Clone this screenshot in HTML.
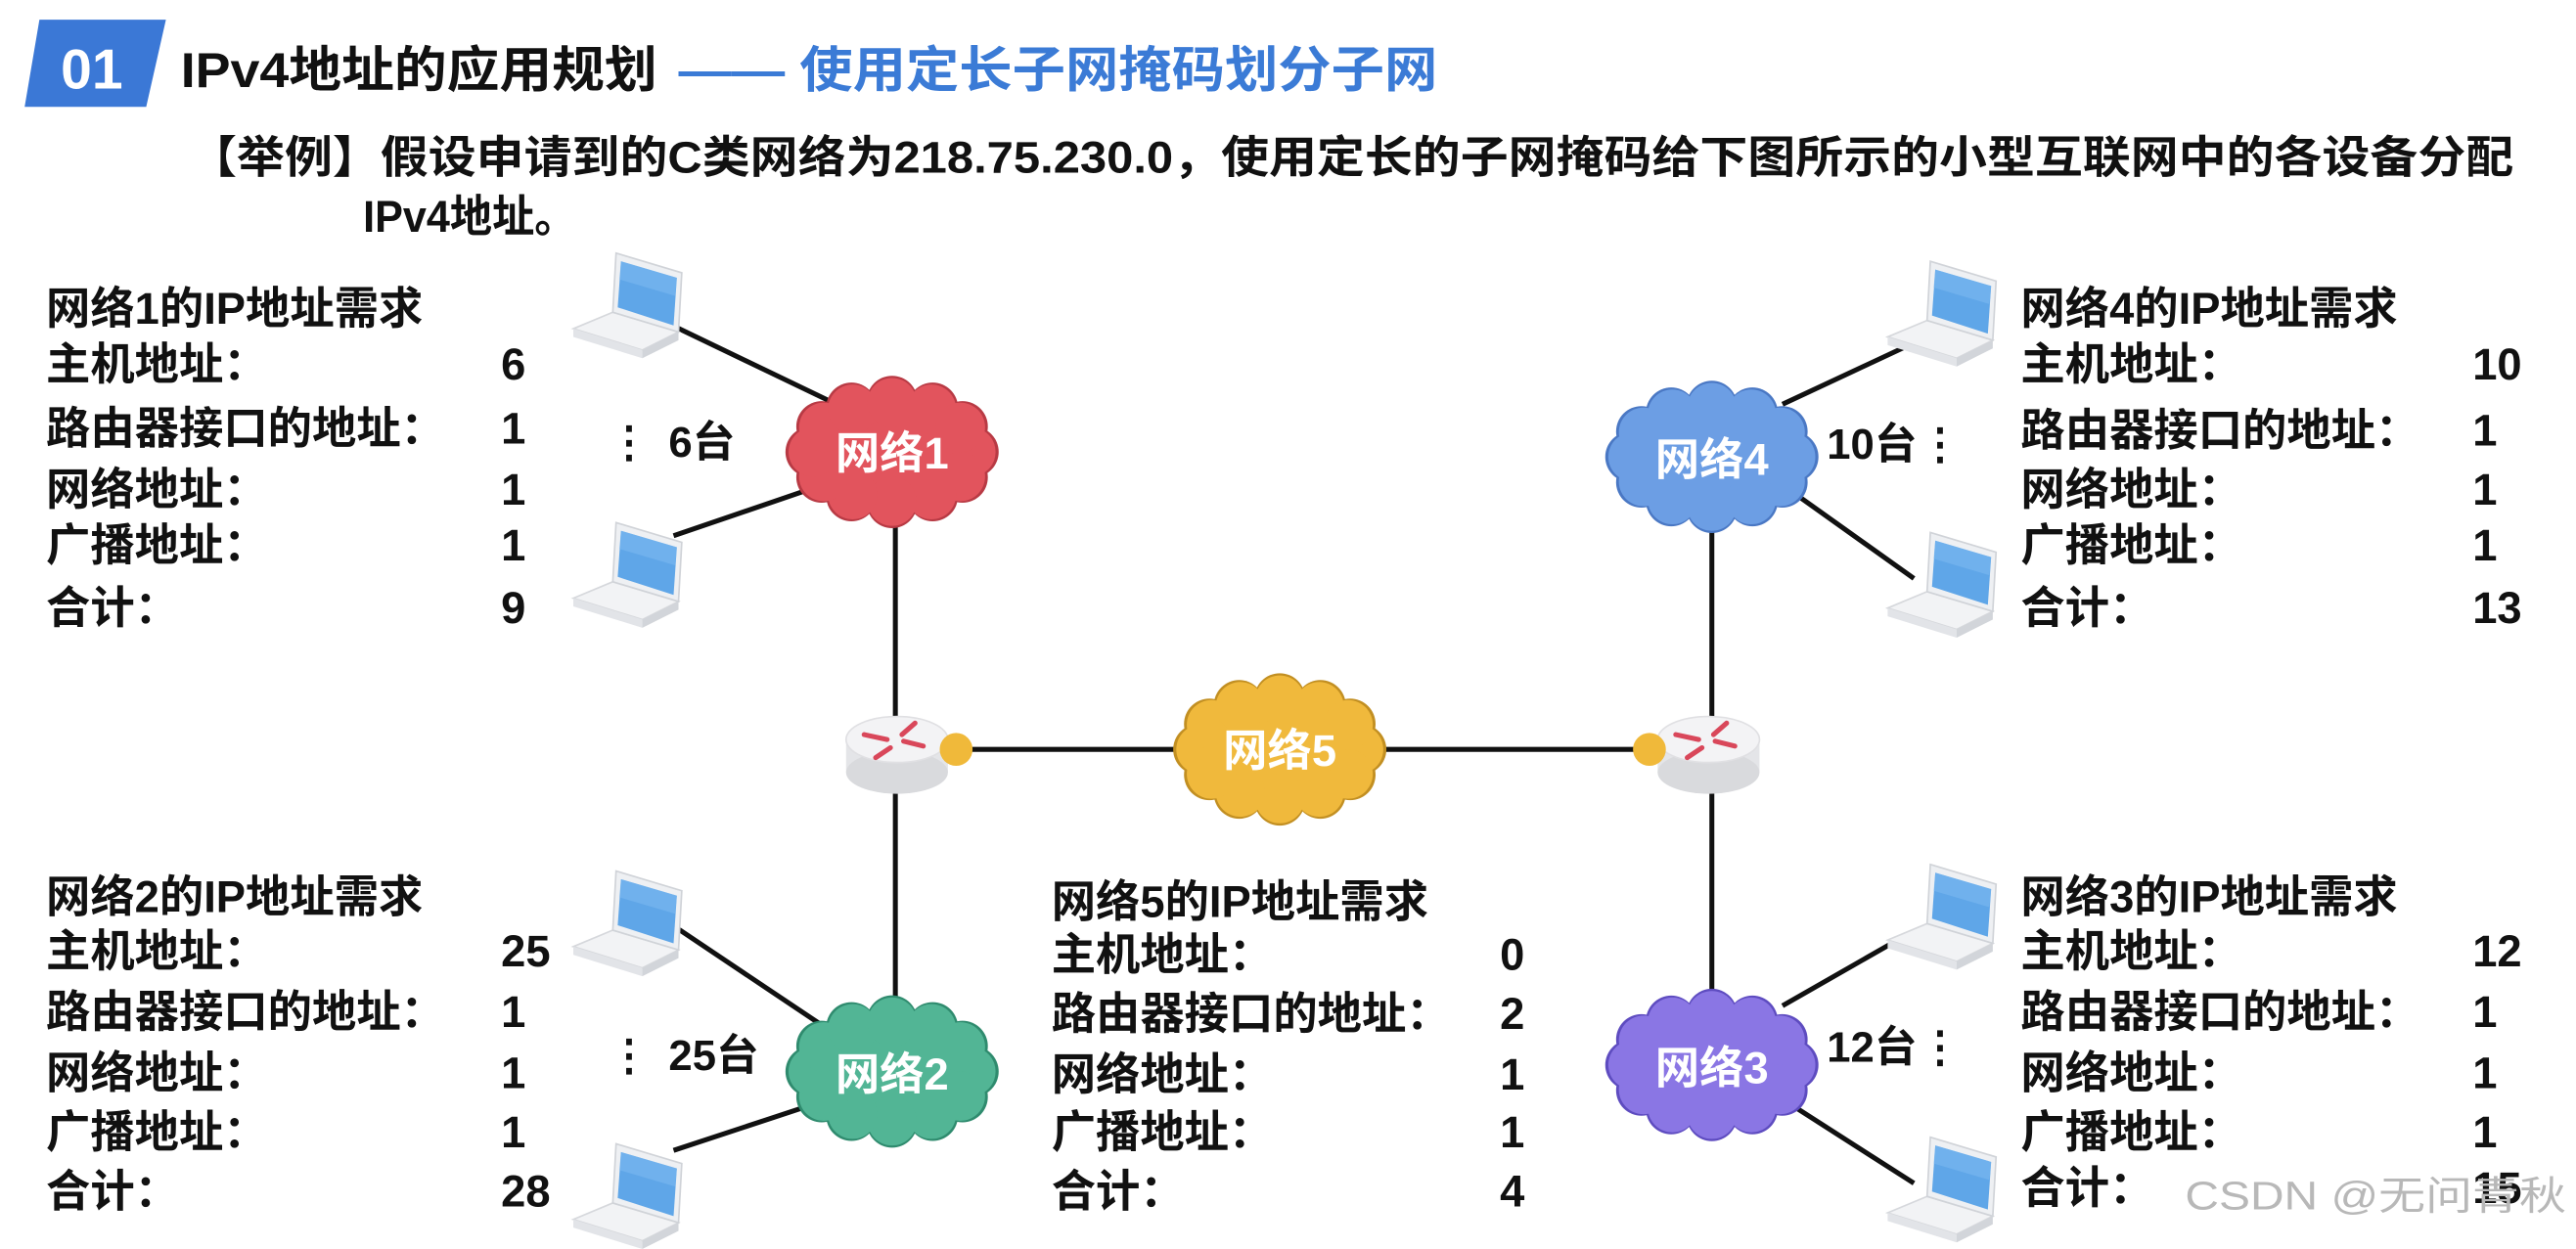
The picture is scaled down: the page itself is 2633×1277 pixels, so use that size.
<!DOCTYPE html>
<html><head><meta charset="utf-8">
<style>
html,body{margin:0;padding:0;background:#fff;}
svg{display:block;}
text{font-family:"Liberation Sans","Noto Sans CJK SC",sans-serif;font-weight:bold;}
</style></head>
<body>
<svg width="2633" height="1277" viewBox="0 0 1568 760" preserveAspectRatio="none" xmlns="http://www.w3.org/2000/svg" xmlns:xlink="http://www.w3.org/1999/xlink">
<defs>
  <g id="cb">
    <ellipse cx="0" cy="0" rx="50" ry="32"/>
    <circle cx="48" cy="0" r="15"/><circle cx="41.6" cy="15" r="15"/><circle cx="24" cy="26" r="15"/>
    <circle cx="0" cy="30" r="15"/><circle cx="-24" cy="26" r="15"/><circle cx="-41.6" cy="15" r="15"/>
    <circle cx="-48" cy="0" r="15"/><circle cx="-41.6" cy="-15" r="15"/><circle cx="-24" cy="-26" r="15"/>
    <circle cx="0" cy="-30" r="15"/><circle cx="24" cy="-26" r="15"/><circle cx="41.6" cy="-15" r="15"/>
  </g>
  <g id="laptop">
    <polygon points="4,50 28,40 68,52 46,63" fill="#f2f3f5" stroke="#d6d8dc" stroke-width="1"/>
    <polygon points="4,50 46,63 46,68 4,55" fill="#e2e4e8"/>
    <polygon points="46,63 68,52 68,57 46,68" fill="#d2d5da"/>
    <polygon points="30,4 70,16 68,52 28,40" fill="#eef0f3" stroke="#d0d3d8" stroke-width="1"/>
    <polygon points="33,9 67,19 65,48 31,37" fill="#5fa6e8"/>
    <polygon points="33,9 67,19 66,30 32,20" fill="#7bb9f0" opacity="0.6"/>
  </g>
  <g id="router">
    <rect x="-31" y="-6" width="62" height="20" fill="#e4e5e8"/>
    <ellipse cx="0" cy="14" rx="31" ry="13" fill="#d9dadd"/>
    <ellipse cx="0" cy="-6" rx="31" ry="14" fill="#f3f3f5" stroke="#e0e0e3" stroke-width="1"/>
    <g stroke="#d9475a" stroke-width="3" fill="none" stroke-linecap="round">
      <line x1="-20" y1="-9" x2="-6" y2="-6"/>
      <line x1="16" y1="-2" x2="4" y2="-5"/>
      <line x1="3" y1="-9" x2="11" y2="-16"/>
      <line x1="-4" y1="-1" x2="-13" y2="5"/>
    </g>
  </g>
</defs>

<!-- header -->
<polygon points="24,12 101,12 89,65 15,65" fill="#3b78d6"/>
<text x="37" y="54" font-size="34" fill="#fff">01</text>
<text x="110" y="53" font-size="30" fill="#111" textLength="290" lengthAdjust="spacingAndGlyphs">IPv4地址的应用规划</text>
<text x="413" y="53" font-size="30" fill="#3b7bd6" textLength="462" lengthAdjust="spacingAndGlyphs">—— 使用定长子网掩码划分子网</text>
<text x="115" y="105" font-size="27" fill="#111" textLength="1415" lengthAdjust="spacingAndGlyphs">【举例】假设申请到的C类网络为218.75.230.0，使用定长的子网掩码给下图所示的小型互联网中的各设备分配</text>
<text x="221" y="141" font-size="27" fill="#111" textLength="130" lengthAdjust="spacingAndGlyphs">IPv4地址。</text>

<!-- lines -->
<g stroke="#111" stroke-width="3" fill="none">
  <line x1="405" y1="196" x2="505" y2="244"/>
  <line x1="410" y1="326" x2="495" y2="297"/>
  <line x1="545" y1="300" x2="545" y2="625"/>
  <line x1="405" y1="560" x2="505" y2="627"/>
  <line x1="410" y1="700" x2="495" y2="672"/>
  <line x1="583" y1="456" x2="1003" y2="456"/>
  <line x1="1162" y1="210" x2="1085" y2="246"/>
  <line x1="1165" y1="352" x2="1092" y2="300"/>
  <line x1="1042" y1="300" x2="1042" y2="625"/>
  <line x1="1162" y1="568" x2="1085" y2="612"/>
  <line x1="1165" y1="720" x2="1090" y2="672"/>
</g>

<!-- laptops -->
<use xlink:href="#laptop" x="345" y="150"/>
<use xlink:href="#laptop" x="345" y="314"/>
<use xlink:href="#laptop" x="345" y="526"/>
<use xlink:href="#laptop" x="345" y="692"/>
<use xlink:href="#laptop" x="1145" y="155"/>
<use xlink:href="#laptop" x="1145" y="320"/>
<use xlink:href="#laptop" x="1145" y="522"/>
<use xlink:href="#laptop" x="1145" y="688"/>

<!-- routers -->
<use xlink:href="#router" x="546" y="456"/>
<use xlink:href="#router" x="1040" y="456"/>
<circle cx="582" cy="456" r="10" fill="#f0b93a"/>
<circle cx="1004" cy="456" r="10" fill="#f0b93a"/>

<!-- clouds -->
<g transform="translate(543,275)"><use xlink:href="#cb" fill="#b83a44" transform="scale(1.03)"/><use xlink:href="#cb" fill="#e2545d"/></g>
<g transform="translate(1042,278)"><use xlink:href="#cb" fill="#4a78c4" transform="scale(1.03)"/><use xlink:href="#cb" fill="#6c9ee4"/></g>
<g transform="translate(779,456)"><use xlink:href="#cb" fill="#c28f22" transform="scale(1.03)"/><use xlink:href="#cb" fill="#f0b93c"/></g>
<g transform="translate(543,652)"><use xlink:href="#cb" fill="#2f8b6e" transform="scale(1.03)"/><use xlink:href="#cb" fill="#52b595"/></g>
<g transform="translate(1042,648)"><use xlink:href="#cb" fill="#5e4cc0" transform="scale(1.03)"/><use xlink:href="#cb" fill="#8a76e4"/></g>
<g font-size="27" fill="#fff" text-anchor="middle">
  <text x="543" y="285">网络1</text>
  <text x="1042" y="289">网络4</text>
  <text x="779" y="466">网络5</text>
  <text x="543" y="663">网络2</text>
  <text x="1042" y="659">网络3</text>
</g>

<!-- counts -->
<g font-size="26" fill="#111">
  <text x="370" y="278">⋮</text><text x="407" y="278">6台</text>
  <text x="370" y="651">⋮</text><text x="407" y="651">25台</text>
  <text x="1112" y="279">10台</text><text x="1168" y="279">⋮</text>
  <text x="1112" y="646">12台</text><text x="1168" y="646">⋮</text>
</g>

<!-- tables -->
<g font-size="27" fill="#111">
  <text x="28" y="197">网络1的IP地址需求</text>
  <text x="28" y="231">主机地址：</text><text x="305" y="231">6</text>
  <text x="28" y="270">路由器接口的地址：</text><text x="305" y="270">1</text>
  <text x="28" y="307">网络地址：</text><text x="305" y="307">1</text>
  <text x="28" y="341">广播地址：</text><text x="305" y="341">1</text>
  <text x="28" y="379">合计：</text><text x="305" y="379">9</text>

  <text x="28" y="555">网络2的IP地址需求</text>
  <text x="28" y="588">主机地址：</text><text x="305" y="588">25</text>
  <text x="28" y="625">路由器接口的地址：</text><text x="305" y="625">1</text>
  <text x="28" y="662">网络地址：</text><text x="305" y="662">1</text>
  <text x="28" y="698">广播地址：</text><text x="305" y="698">1</text>
  <text x="28" y="734">合计：</text><text x="305" y="734">28</text>

  <text x="640" y="558">网络5的IP地址需求</text>
  <text x="640" y="590">主机地址：</text><text x="913" y="590">0</text>
  <text x="640" y="626">路由器接口的地址：</text><text x="913" y="626">2</text>
  <text x="640" y="663">网络地址：</text><text x="913" y="663">1</text>
  <text x="640" y="698">广播地址：</text><text x="913" y="698">1</text>
  <text x="640" y="734">合计：</text><text x="913" y="734">4</text>

  <text x="1230" y="197">网络4的IP地址需求</text>
  <text x="1230" y="231">主机地址：</text><text x="1505" y="231">10</text>
  <text x="1230" y="271">路由器接口的地址：</text><text x="1505" y="271">1</text>
  <text x="1230" y="307">网络地址：</text><text x="1505" y="307">1</text>
  <text x="1230" y="341">广播地址：</text><text x="1505" y="341">1</text>
  <text x="1230" y="379">合计：</text><text x="1505" y="379">13</text>

  <text x="1230" y="555">网络3的IP地址需求</text>
  <text x="1230" y="588">主机地址：</text><text x="1505" y="588">12</text>
  <text x="1230" y="625">路由器接口的地址：</text><text x="1505" y="625">1</text>
  <text x="1230" y="662">网络地址：</text><text x="1505" y="662">1</text>
  <text x="1230" y="698">广播地址：</text><text x="1505" y="698">1</text>
  <text x="1230" y="732">合计：</text><text x="1505" y="732">15</text>
</g>
<text x="1330" y="736" font-size="24" font-weight="normal" style="font-weight:normal" fill="#b8b8b8" textLength="232" lengthAdjust="spacingAndGlyphs">CSDN @无问青秋</text>
</svg>
</body></html>
